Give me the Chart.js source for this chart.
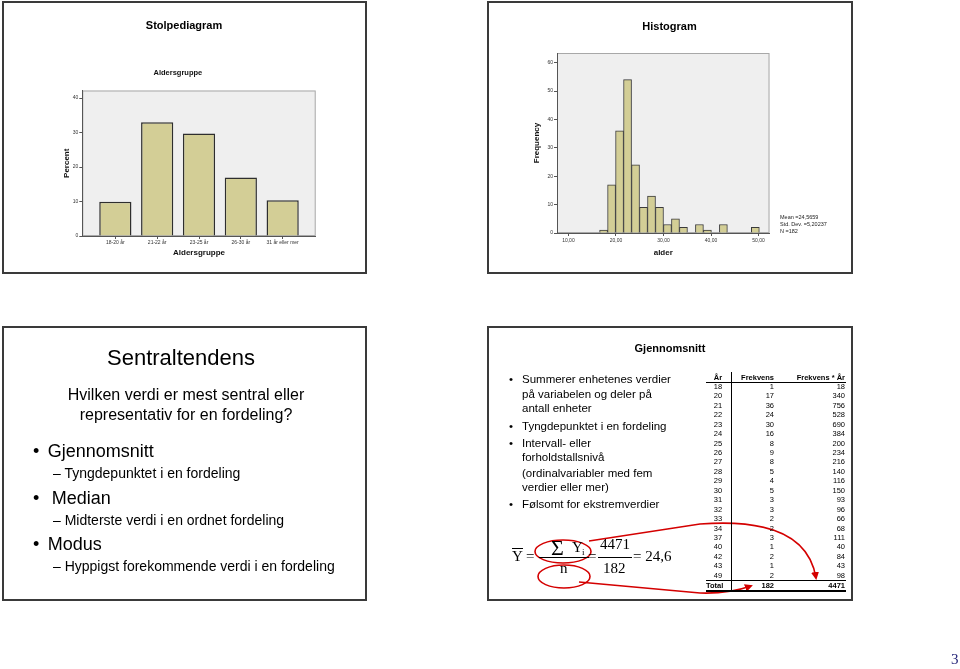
<!DOCTYPE html>
<html>
<head>
<meta charset="utf-8">
<script src="https://cdn.jsdelivr.net/npm/chart.js@4.4.0/dist/chart.umd.min.js"></script>
<style>
body { margin:0; width:960px; height:669px; position:relative; background:#fff; overflow:hidden; font-family:'Liberation Sans', Arial, sans-serif; color:#000; }
.slide { position:absolute; border:2px solid #3a3a3a; box-sizing:border-box; }
.t { position:absolute; white-space:nowrap; line-height:1; }
.ln { position:absolute; background:#000; }
canvas { position:absolute; }
svg { position:absolute; left:0; top:0; pointer-events:none; }
</style>
</head>
<body>
<div class="slide" style="left:2px;top:1px;width:365px;height:273px"></div>
<div class="slide" style="left:487px;top:1px;width:366px;height:273px"></div>
<div class="slide" style="left:2px;top:326px;width:365px;height:275px"></div>
<div class="slide" style="left:487px;top:326px;width:366px;height:275px"></div>

<canvas id="barChart" width="304" height="205" style="left:40px;top:60px"></canvas>
<canvas id="histChart" width="260" height="215" style="left:520px;top:45px"></canvas>

<svg width="960" height="669">
  <defs>
    <marker id="arr" markerWidth="8" markerHeight="8" refX="6" refY="4" orient="auto" markerUnits="userSpaceOnUse">
      <path d="M0,0 L8,4 L0,8 Z" fill="#d40000"/>
    </marker>
  </defs>
  <ellipse cx="563" cy="551.5" rx="28" ry="11.5" fill="none" stroke="#d40000" stroke-width="1.6"/>
  <ellipse cx="564" cy="576.5" rx="26" ry="11.5" fill="none" stroke="#d40000" stroke-width="1.6"/>
  <path d="M589 541 L700 524 Q806 516 816 578" fill="none" stroke="#d40000" stroke-width="1.6" marker-end="url(#arr)"/>
  <path d="M579 582 L700 593 Q728 594 751 586" fill="none" stroke="#d40000" stroke-width="1.6" marker-end="url(#arr)"/>
</svg>

<script>
// Stolpediagram: aldersgrupper i prosent
const ageGroups = ['18-20 år', '21-22 år', '23-25 år', '26-30 år', '31 år eller mer'];
const agePercent = [9.9, 33.0, 29.7, 17.0, 10.4];

// Histogram: midtpunkt for hver stolpe og frekvens
const binCenters = [17.40, 19.08, 20.76, 22.44, 24.12, 25.80, 27.48, 29.16, 30.84, 32.52,
                    34.20, 35.88, 37.56, 39.24, 40.92, 42.60, 44.28, 45.96, 47.64, 49.32];
const binCounts = [1, 17, 36, 54, 24, 9, 13, 9, 3, 5, 2, 0, 3, 1, 0, 3, 0, 0, 0, 2];
const statLines = ['Mean =24,5659', 'Std. Dev. =5,20237', 'N =182'];

// Tabell: år, frekvens, frekvens * år
const tableYears = [18, 20, 21, 22, 23, 24, 25, 26, 27, 28, 29, 30, 31, 32, 33, 34, 37, 40, 42, 43, 49];
const tableFreq = [1, 17, 36, 24, 30, 16, 8, 9, 8, 5, 4, 5, 3, 3, 2, 2, 3, 1, 2, 1, 2];
const tableProduct = [18, 340, 756, 528, 690, 384, 200, 234, 216, 140, 116, 150, 93, 96, 66, 68, 111, 40, 84, 43, 98];
const tableTotal = ['Total', '182', '4471'];

const sans = "'Liberation Sans', Arial, sans-serif";
const serif = "'Liberation Serif', 'Times New Roman', serif";

// tekst plassert etter grunnlinje
function txt(s, x, base, size, o = {}) {
    const d = document.createElement('div');
    d.className = 't';
    d.textContent = s;
    d.style.fontFamily = o.serif ? serif : sans;
    d.style.fontSize = size + 'px';
    d.style.fontWeight = o.bold ? 'bold' : 'normal';
    d.style.top = (base - (o.serif ? 0.8375 : 0.8465) * size) + 'px';
    if (o.align === 'center') { d.style.left = x + 'px'; d.style.transform = 'translateX(-50%)'; }
    else if (o.align === 'right') { d.style.right = (960 - x) + 'px'; }
    else d.style.left = x + 'px';
    if (o.color) d.style.color = o.color;
    document.body.appendChild(d);
}
function line(x, y, w, h) {
    const d = document.createElement('div');
    d.className = 'ln';
    d.style.left = x + 'px'; d.style.top = y + 'px';
    d.style.width = w + 'px'; d.style.height = h + 'px';
    document.body.appendChild(d);
}

// overskrifter
txt('Stolpediagram', 184, 29, 11, { bold: true, align: 'center' });
txt('Histogram', 669.5, 30, 11, { bold: true, align: 'center' });
statLines.forEach((s, i) => txt(s, 780, 219.5 + i * 7, 5.5, { color: '#222' }));

// Sentraltendens
txt('Sentraltendens', 181, 366, 22, { align: 'center' });
txt('Hvilken verdi er mest sentral eller', 186, 401, 16, { align: 'center' });
txt('representativ for en fordeling?', 186, 421, 16, { align: 'center' });
txt('•', 33, 457.5, 18); txt('Gjennomsnitt', 47.7, 457.5, 18);
txt('– Tyngdepunktet i en fordeling', 53, 478, 14);
txt('•', 33, 504, 18); txt('Median', 51.7, 504, 18);
txt('– Midterste verdi i en ordnet fordeling', 53, 525, 14);
txt('•', 33, 550, 18); txt('Modus', 47.7, 550, 18);
txt('– Hyppigst forekommende verdi i en fordeling', 53, 571, 14);

// Gjennomsnitt
txt('Gjennomsnitt', 670, 352, 11, { bold: true, align: 'center' });
const bulletLines = [
    ['Summerer enhetenes verdier', 384, true], ['på variabelen og deler på', 399], ['antall enheter', 413],
    ['Tyngdepunktet i en fordeling', 431, true],
    ['Intervall- eller', 448, true], ['forholdstallsnivå', 462], ['(ordinalvariabler med fem', 478], ['verdier eller mer)', 492],
    ['Følsomt for ekstremverdier', 509, true]
];
bulletLines.forEach(([s, b, bullet]) => {
    if (bullet) txt('•', 509, b, 11.5);
    txt(s, 522, b, 11.5);
});

// formel
txt('Y', 512, 562, 15, { serif: true });
line(512, 548, 11, 1);
txt('=', 526, 562, 15, { serif: true });
txt('Σ', 551, 555, 22, { serif: true });
txt('Y', 572, 553, 15, { serif: true });
txt('i', 582, 556, 9, { serif: true });
line(539, 557, 50, 1);
txt('n', 560, 574, 15, { serif: true });
txt('=', 588, 562, 15, { serif: true });
txt('4471', 600, 550, 15, { serif: true });
line(598, 557, 34, 1);
txt('182', 603, 574, 15, { serif: true });
txt('= 24,6', 633, 562, 15, { serif: true });

// tabell
const hb = 380.4;
txt('År', 718, hb, 7.5, { bold: true, align: 'center' });
txt('Frekvens', 774, hb, 7.5, { bold: true, align: 'right' });
txt('Frekvens * År', 845, hb, 7.5, { bold: true, align: 'right' });
line(706, 381.5, 140, 1);
tableYears.forEach((yr, i) => {
    const b = 389.4 + i * 9.43;
    txt(String(yr), 718, b, 7.5, { align: 'center' });
    txt(String(tableFreq[i]), 774, b, 7.5, { align: 'right' });
    txt(String(tableProduct[i]), 845, b, 7.5, { align: 'right' });
});
line(706, 580, 140, 1);
txt(tableTotal[0], 706, 588, 7.5, { bold: true });
txt(tableTotal[1], 774, 588, 7.5, { bold: true, align: 'right' });
txt(tableTotal[2], 845, 588, 7.5, { bold: true, align: 'right' });
line(706, 590, 140, 1.5);
line(731, 372, 1, 220);

// sidetall
txt('3', 951, 665, 15, { serif: true, color: '#26267a' });

// grå plottbakgrunn som i SPSS
const plotFrame = {
    id: 'plotFrame',
    beforeDraw(chart) {
        const { ctx, chartArea: a } = chart;
        ctx.save();
        ctx.fillStyle = '#efefef';
        ctx.fillRect(a.left, a.top, a.right - a.left, a.bottom - a.top);
        ctx.strokeStyle = '#a8a8a8';
        ctx.lineWidth = 1;
        ctx.strokeRect(a.left + 0.5, a.top + 0.5, a.right - a.left - 1, a.bottom - a.top - 1);
        ctx.restore();
    }
};

const tickFont = { family: sans, size: 5 };
const titleFont = { family: sans, size: 8, weight: 'bold', lineHeight: 1.2 };

new Chart(document.getElementById('barChart'), {
    type: 'bar',
    data: {
        datasets: [{
            data: agePercent.map((v, i) => ({ x: i + 1, y: v })),
            backgroundColor: '#d3ce96',
            borderColor: '#2e2e2e',
            borderWidth: 1.5,
            barPercentage: 0.77,
            categoryPercentage: 1
        }]
    },
    options: {
        responsive: false,
        animation: false,
        layout: { padding: { left: 0, right: 28.3, top: 0, bottom: 0 } },
        plugins: {
            legend: { display: false },
            tooltip: { enabled: false },
            title: {
                display: true, text: 'Aldersgruppe', color: '#111',
                font: { family: sans, size: 7.5, weight: 'bold', lineHeight: 1.2 },
                padding: { top: 8.5, bottom: 13 }
            }
        },
        scales: {
            x: {
                type: 'linear', min: 0.21, max: 5.79, offset: false,
                afterFit(s) { s.height = 29; },
                ticks: {
                    stepSize: 1, includeBounds: false, autoSkip: false, maxRotation: 0,
                    padding: 1, color: '#333', font: tickFont,
                    callback: v => ageGroups[v - 1] || ''
                },
                grid: { drawOnChartArea: false, tickLength: 3, color: '#555', offset: false },
                border: { color: '#555' },
                title: { display: true, text: 'Aldersgruppe', color: '#111', font: titleFont, padding: { top: 0, bottom: 7.2 } }
            },
            y: {
                min: 0, max: 42.2,
                afterFit(s) { s.width = 42.3; },
                ticks: { stepSize: 10, includeBounds: false, padding: 1, color: '#333', font: tickFont },
                grid: { drawOnChartArea: false, tickLength: 3, color: '#555' },
                border: { color: '#555' },
                title: { display: true, text: 'Percent', color: '#111', font: titleFont, padding: { top: 21.5, bottom: 0 } }
            }
        }
    },
    plugins: [plotFrame]
});

new Chart(document.getElementById('histChart'), {
    type: 'bar',
    data: {
        datasets: [{
            data: binCenters.map((c, i) => ({ x: c, y: binCounts[i] })),
            backgroundColor: '#d3ce96',
            borderColor: '#3a3a3a',
            borderWidth: 1,
            barPercentage: 1,
            categoryPercentage: 1
        }]
    },
    options: {
        responsive: false,
        animation: false,
        layout: { padding: { left: 0, right: 10.5, top: 8, bottom: 0 } },
        plugins: { legend: { display: false }, tooltip: { enabled: false } },
        scales: {
            x: {
                type: 'linear', min: 7.6, max: 52.3, offset: false,
                afterFit(s) { s.height = 27; },
                ticks: {
                    stepSize: 10, includeBounds: false, autoSkip: false, maxRotation: 0,
                    padding: 2, color: '#333', font: tickFont,
                    callback: v => v.toFixed(2).replace('.', ',')
                },
                grid: { drawOnChartArea: false, tickLength: 3, color: '#555', offset: false },
                border: { color: '#555' },
                title: { display: true, text: 'alder', color: '#111', font: titleFont, padding: { top: 0, bottom: 2.2 } }
            },
            y: {
                min: 0, max: 63.4,
                afterFit(s) { s.width = 37; },
                ticks: { stepSize: 10, includeBounds: false, padding: 1, color: '#333', font: tickFont },
                grid: { drawOnChartArea: false, tickLength: 3, color: '#555' },
                border: { color: '#555' },
                title: { display: true, text: 'Frequency', color: '#111', font: titleFont, padding: { top: 12.2, bottom: 0 } }
            }
        }
    },
    plugins: [plotFrame]
});
</script>
</body>
</html>
